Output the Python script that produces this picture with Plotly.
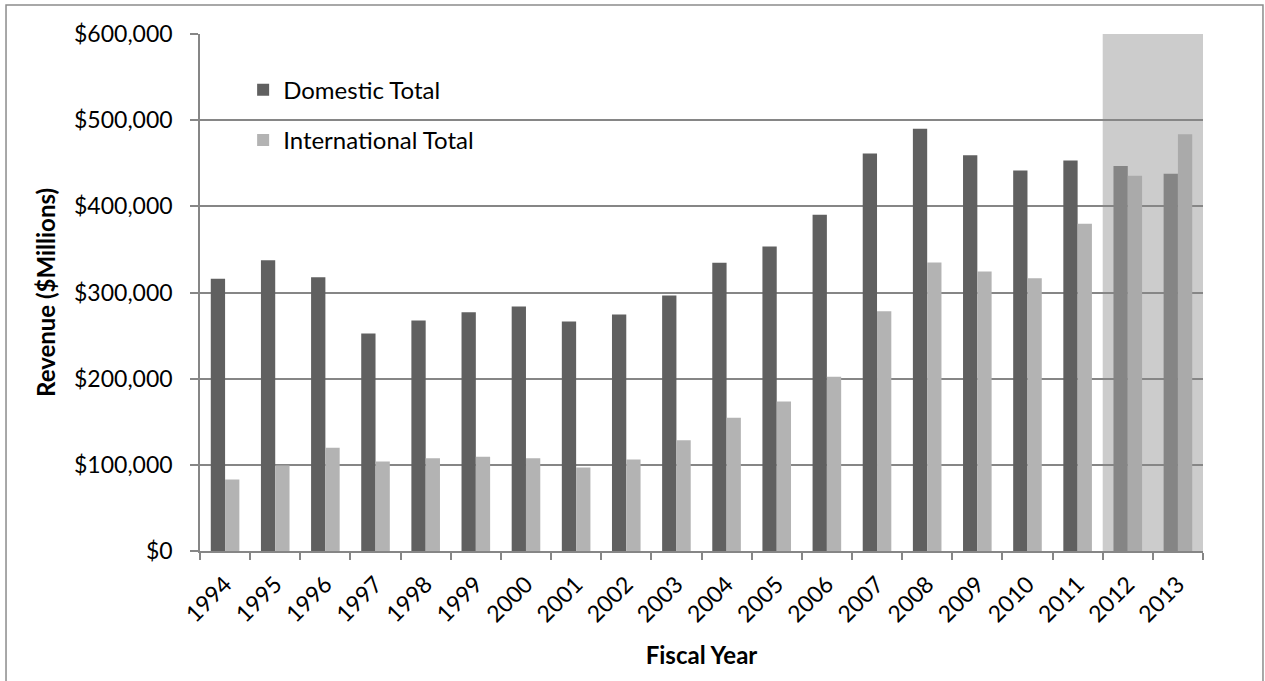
import plotly.graph_objects as go

years = [str(y) for y in range(1994, 2014)]
domestic = [316000, 337500, 317800, 252400, 267500, 277100, 283700, 266300, 274500, 296500,
            334500, 353400, 390100, 461300, 489900, 459400, 441600, 453200, 446700, 437700]
international = [83000, 99200, 119700, 103900, 107700, 109300, 107700, 96900, 106200, 128600,
                 154600, 173500, 202100, 278300, 334800, 324400, 316600, 379700, 435600, 483700]
forecast_years = ["2012", "2013"]

FONT = "Lato"
dom_colors = ["#858585" if y in forecast_years else "#606060" for y in years]
int_colors = ["#aaaaaa" if y in forecast_years else "#b3b3b3" for y in years]

fig = go.Figure()
fig.add_trace(go.Bar(x=years, y=domestic, name="Domestic Total", legendgroup="d",
                     marker=dict(color=dom_colors, line=dict(width=0))))
fig.add_trace(go.Bar(x=years, y=international, name="International Total", legendgroup="i",
                     marker=dict(color=int_colors, line=dict(width=0))))

# shaded forecast region
fig.add_shape(type="rect", xref="x", yref="paper",
              x0=years.index(forecast_years[0]) - 0.5, x1=years.index(forecast_years[-1]) + 0.5,
              y0=0, y1=1, fillcolor="#cccccc", line=dict(width=0), layer="below")

# outer border
fig.add_shape(type="rect", xref="paper", yref="paper",
              x0=-0.1934, x1=1.0598, y0=-0.3, y1=1.056,
              line=dict(color="#8c8c8c", width=1.5), fillcolor="rgba(0,0,0,0)", layer="above")

fig.update_layout(
    width=1265, height=681,
    margin=dict(l=200, r=62, t=34, b=130, pad=0),
    paper_bgcolor="white", plot_bgcolor="white",
    barmode="group", bargap=0.43, bargroupgap=0,
    font=dict(family=FONT, size=24, color="black"),
    showlegend=True,
    legend=dict(x=0.043, y=0.935, xanchor="left", yanchor="top",
                bgcolor="rgba(0,0,0,0)", font=dict(family=FONT, size=24, color="black"),
                traceorder="grouped", tracegroupgap=16, itemwidth=30),
)
fig.update_xaxes(
    type="category", showline=True, linecolor="#868686", linewidth=1.5,
    ticks="outside", tickson="boundaries", ticklen=7, tickcolor="#868686", tickwidth=1.5,
    tickangle=-45, tickfont=dict(family=FONT, size=23, color="black"), ticklabelstandoff=9,
    showgrid=False,
    title=dict(text="<b>Fiscal Year</b>", font=dict(family=FONT, size=24, color="black"), standoff=21),
)
fig.update_yaxes(
    range=[0, 600000], dtick=100000, tickformat="$,.0f",
    showline=True, linecolor="#868686", linewidth=1.5,
    ticks="outside", ticklen=8, tickcolor="#868686", tickwidth=1.5,
    showgrid=True, gridcolor="#868686", gridwidth=1.5, zeroline=False,
    tickfont=dict(family=FONT, size=23, color="black"), ticklabelstandoff=13,
    title=dict(text="<b>Revenue ($Millions)</b>", font=dict(family=FONT, size=24, color="black"), standoff=12),
)

fig.write_html("out.html")
